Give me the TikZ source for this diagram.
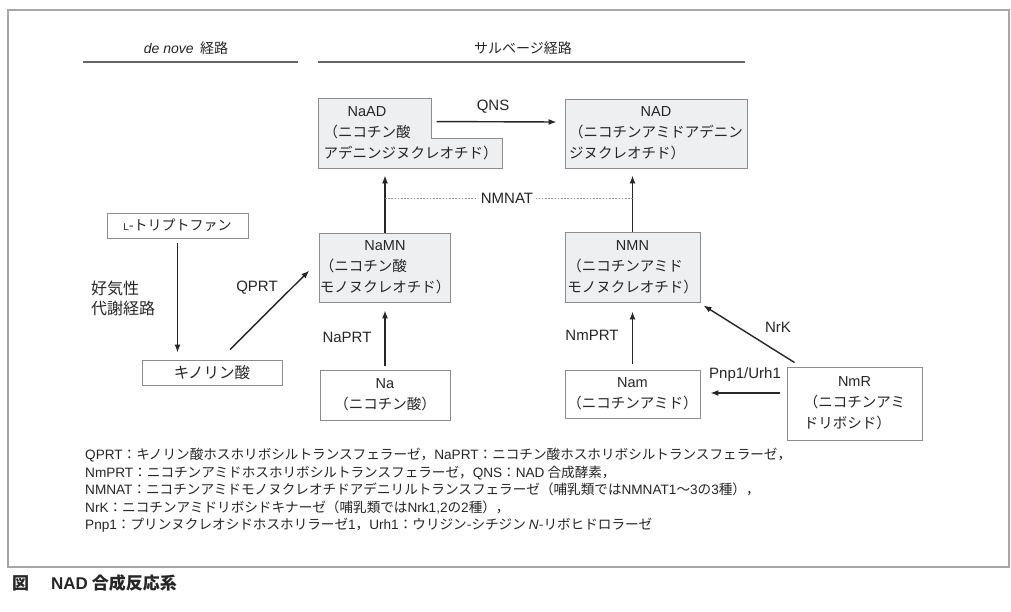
\documentclass[tikz,border=0pt]{standalone}
\usepackage{fontspec}
\usepackage{calc}
\setmainfont{Noto Sans CJK JP}
\newfontfamily\jp{Noto Sans CJK JP}
\newfontfamily\latf{Liberation Sans}
\newcommand\lat[1]{{\latf#1}}
\usetikzlibrary{arrows.meta,calc,backgrounds}
\definecolor{boxfill}{HTML}{EDEFF1}
\definecolor{ink}{HTML}{262626}
\newcommand\boxf{\jp\fontsize{14.5}{21}\selectfont}
\newcommand\labf{\latf\fontsize{15}{18}\selectfont}
\newcommand\legf{\jp\fontsize{13.6}{17}\selectfont}
\newcommand\bxtext[3]{\begin{tabular}{@{}l@{}}\multicolumn{1}{@{}c@{}}{\lat{#1}}\\#2\\#3\end{tabular}}
\begin{document}
\begin{tikzpicture}[x=1pt,y=-1pt,
  every node/.style={text=ink},
  bx/.style={draw=black!45, line width=0.9pt, inner sep=0pt, font=\boxf},
  gbx/.style={bx, fill=boxfill},
  wbx/.style={bx, fill=white, align=center},
  arr/.style={-{Latex[length=8pt,width=6pt]}, line width=1.4pt, draw=ink},
  lab/.style={font=\labf, inner sep=1pt},
  leg/.style={font=\legf, anchor=base west, inner sep=0pt},
  hdr/.style={font=\jp\fontsize{14}{16}\selectfont, inner sep=0pt},
  rule/.style={draw=black!60, line width=1.6pt},
  dotline/.style={draw=black!45, line width=0.9pt, dash pattern=on 1.6pt off 1.6pt}
]
\useasboundingbox (0,0) rectangle (1011,612);
\begin{scope}[on background layer]
\fill[white] (0,0) rectangle (1011,612);
\end{scope}
\draw[black!35, line width=1.2pt] (8,10) rectangle (1009,567);

% headers
\node[hdr] (h1) at (186,48) {{\latf\itshape de nove}\ \ 経路};
\node[hdr] (h2) at (523,48) {サルベージ経路};
\draw[rule] (83,62) -- (298,62);
\draw[rule] (318,62) -- (745,62);

% boxes
\node[bx, minimum width=183pt, minimum height=69pt, draw=none] (NaAD) at (410.5,133.5)
  {\begin{tabular}{@{}l@{}}\multicolumn{1}{@{}l@{}}{\makebox[\widthof{\boxf（ニコチン酸}]{\lat{NaAD}}}\\（ニコチン酸\\アデニンジヌクレオチド）\end{tabular}};
\begin{scope}[on background layer]
\draw[draw=black!45, line width=0.9pt, fill=boxfill]
  (NaAD.north west) -- ($(NaAD.north west)+(113,0)$) -- ($(NaAD.north west)+(113,40)$)
  -- ($(NaAD.north east)+(0,40)$) -- (NaAD.south east) -- (NaAD.south west) -- cycle;
\end{scope}
\node[gbx, minimum width=182pt, minimum height=69pt] (NAD) at (656,133.5)
  {\bxtext{NAD}{（ニコチンアミドアデニン}{ジヌクレオチド）}};
\node[gbx, minimum width=130pt, minimum height=69pt] (NaMN) at (385,267.5)
  {\bxtext{NaMN}{（ニコチン酸}{モノヌクレオチド）}};
\node[gbx, minimum width=135pt, minimum height=70pt] (NMN) at (632.5,267)
  {\bxtext{NMN}{（ニコチンアミド}{モノヌクレオチド）}};
\node[wbx, minimum width=130pt, minimum height=50pt] (Na) at (385,395)
  {\lat{Na}\\（ニコチン酸）};
\node[wbx, minimum width=135pt, minimum height=48pt] (Nam) at (632.5,394)
  {\lat{Nam}\\（ニコチンアミド）};
\node[wbx, minimum width=135pt, minimum height=73pt] (NmR) at (854.5,403.5)
  {\bxtext{NmR}{（ニコチンアミ}{ドリボシド）}};
\node[wbx, minimum width=141pt, minimum height=25pt, font=\jp\fontsize{14}{16}\selectfont] (trp) at (177.5,225.5)
  {{\latf\fontsize{10}{12}\selectfont L}-トリプトファン};
\node[wbx, minimum width=140pt, minimum height=25pt, font=\jp\fontsize{15.5}{16}\selectfont] (quin) at (212,372.5)
  {キノリン酸};

% connectors
\draw[arr, shorten <=5pt, shorten >=7pt] (trp.south) -- (trp.south |- quin.north);
\draw[arr] ($(quin.north)+(18,-10)$) -- ($(NaMN.west)+(-10,3)$);
\draw[arr, shorten <=4pt, shorten >=8pt] (Na.north) -- (NaMN.south);
\draw[arr, shorten >=7pt] (NaMN.north) -- (NaMN.north |- NaAD.south);
\draw[arr, shorten >=7pt] (NMN.north) -- (NAD.south -| NMN.north);
\draw[arr, shorten <=6pt, shorten >=9pt] (Nam.north) -- (NMN.south);
\draw[arr] ($(NmR.north west)+(8,-4)$) -- ($(NMN.south east)+(3,3)$);
\draw[arr] ($(NmR.west)+(-7,-10.5)$) -- ($(Nam.east)+(10,-1)$);
\draw[arr] ($(NaAD.north west)+(118,23)$) -- ($(NAD.west)+(-8,-11.5)$);
\coordinate (dl) at (0,198);
\draw[dotline] (NaMN.north |- dl) -- (NMN.north |- dl);

% labels
\node[lab] (lQNS) at (493,107) {QNS};
\node[lab, fill=white, inner sep=3pt] (lNMNAT) at (507,198) {NMNAT};
\node[lab] (lQPRT) at (257,288) {QPRT};
\node[lab] (lNaPRT) at (347,337) {NaPRT};
\node[lab] (lNmPRT) at (592,335) {NmPRT};
\node[lab] (lNrK) at (778,327) {NrK};
\node[lab] (lPnp) at (745,375) {Pnp1/Urh1};
\node[lab, anchor=west, align=left, font=\jp\fontsize{16}{20}\selectfont] (laero) at (90,298) {好気性\\代謝経路};

% legend
\node[leg] (leg1) at (85,459.5) {\lat{QPRT}：キノリン酸ホスホリボシルトランスフェラーゼ，\lat{NaPRT}：ニコチン酸ホスホリボシルトランスフェラーゼ，};
\node[leg] (leg2) at (85,477.5) {\lat{NmPRT}：ニコチンアミドホスホリボシルトランスフェラーゼ，\lat{QNS}：\lat{NAD} 合成酵素，};
\node[leg] (leg3) at (85,494.5) {\lat{NMNAT}：ニコチンアミドモノヌクレオチドアデニリルトランスフェラーゼ（哺乳類では\lat{NMNAT1}〜\lat{3}の\lat{3}種），};
\node[leg] (leg4) at (85,512.5) {\lat{NrK}：ニコチンアミドリボシドキナーゼ（哺乳類では\lat{Nrk1,2}の\lat{2}種），};
\node[leg] (leg5) at (85,529.5) {\lat{Pnp1}：プリンヌクレオシドホスホリラーゼ\lat{1}，\lat{Urh1}：ウリジン-シチジン {\latf\itshape N}-リボヒドロラーゼ};

% caption
\node[anchor=base west, inner sep=0pt, font=\jp\fontsize{17}{18}\selectfont\bfseries] (cap1) at (12,589) {図};
\node[anchor=base west, inner sep=0pt, font=\jp\fontsize{17}{18}\selectfont\bfseries] (cap2) at (51,589) {{\latf\bfseries NAD} 合成反応系};
\end{tikzpicture}
\end{document}
